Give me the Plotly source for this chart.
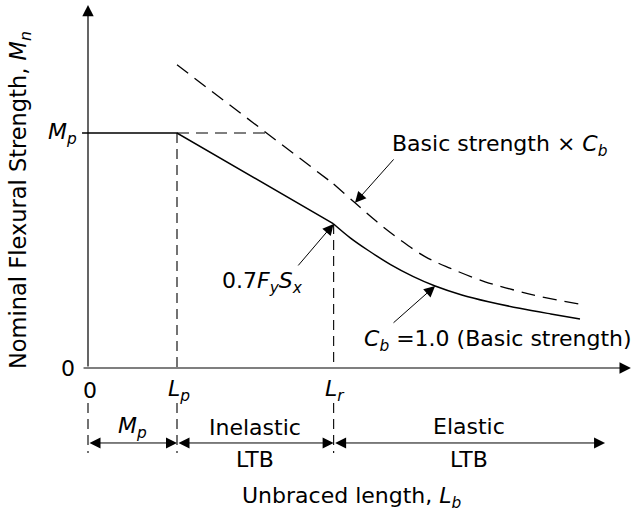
import plotly.graph_objects as go

# Normalised values: lengths in units of Lp, moments in units of Mp
Lp = 1.0
Lr = 2.76
Mp = 1.0
M_r = 0.613          # 0.7 Fy Sx

# Elastic LTB branch, Cb = 1.0 (basic strength)
elastic_x = [2.76, 2.95, 3.15, 3.40, 3.65, 3.90, 4.20, 4.50, 4.85, 5.20, 5.528]
elastic_y = [0.613, 0.553, 0.500, 0.440, 0.390, 0.349, 0.311, 0.282, 0.254, 0.230, 0.209]

# Basic strength multiplied by Cb
cb_inel_x = [1.0, 2.76]
cb_inel_y = [1.29, 0.783]
cb_el_x = [2.76, 3.0, 3.247, 3.506, 3.787, 4.067, 4.461, 4.775, 5.079, 5.528]
cb_el_y = [0.783, 0.703, 0.622, 0.546, 0.474, 0.425, 0.367, 0.333, 0.304, 0.272]

x_ticks = [0.0, Lp, Lr]
x_tick_labels = ["0", "<i>L<sub>p</sub></i>", "<i>L<sub>r</sub></i>"]
elastic_span_end = 5.81

FONT = "DejaVu Sans"
FS = 22
INK = "black"

fig = go.Figure()

# plateau and inelastic branch
fig.add_trace(go.Scatter(x=[-0.067, Lp, Lr], y=[Mp, Mp, M_r], mode="lines",
                         line=dict(color=INK, width=1.5), hoverinfo="skip"))
# elastic branch
fig.add_trace(go.Scatter(x=elastic_x, y=elastic_y, mode="lines",
                         line=dict(color=INK, width=1.5, shape="spline", smoothing=1.0),
                         hoverinfo="skip"))
# Cb-amplified strength (dashed)
fig.add_trace(go.Scatter(x=cb_inel_x, y=cb_inel_y, mode="lines",
                         line=dict(color=INK, width=1.3, dash="14px,8px"), hoverinfo="skip"))
fig.add_trace(go.Scatter(x=cb_el_x, y=cb_el_y, mode="lines",
                         line=dict(color=INK, width=1.3, dash="14px,8px",
                                   shape="spline", smoothing=1.0),
                         hoverinfo="skip"))

# dashed Mp cap up to the Cb curve
x_cross = cb_inel_x[0] + (cb_inel_y[0] - Mp) * (cb_inel_x[1] - cb_inel_x[0]) / (cb_inel_y[0] - cb_inel_y[1])
fig.add_trace(go.Scatter(x=[Lp, x_cross], y=[Mp, Mp], mode="lines",
                         line=dict(color=INK, width=1.1, dash="12px,7px"), hoverinfo="skip"))

# vertical dashed guides at Lp and Lr, plus the extension lines below the axis
vdash = dict(color=INK, width=1.1, dash="10px,6px")
fig.add_trace(go.Scatter(x=[Lp, Lp], y=[Mp, 0], mode="lines", line=vdash, hoverinfo="skip"))
fig.add_trace(go.Scatter(x=[Lr, Lr], y=[M_r, 0], mode="lines", line=vdash, hoverinfo="skip"))
for xv in x_ticks:
    fig.add_trace(go.Scatter(x=[xv, xv], y=[-0.149, -0.362], mode="lines",
                             line=vdash, hoverinfo="skip"))

ann = []

def arrow(x, y, ax, ay, head=2, size=2.2, width=1.0, side="end"):
    ann.append(dict(x=x, y=y, ax=ax, ay=ay, xref="x", yref="y", axref="x", ayref="y",
                    text="", showarrow=True, arrowhead=head, arrowsize=size,
                    arrowwidth=width, arrowcolor=INK, arrowside=side, standoff=0,
                    startstandoff=0))

def label(x, y, text, size=FS, **kw):
    d = dict(x=x, y=y, xref="x", yref="y", text=text, showarrow=False,
             font=dict(family=FONT, size=size, color=INK))
    d.update(kw)
    ann.append(d)

# axes with arrowheads
arrow(0, 1.545, 0, 0, size=1.9, width=1.2)
arrow(6.10, 0, -0.067, 0, size=1.9, width=1.2)

# tick labels
label(-0.29, Mp, "<i>M<sub>p</sub></i>")
label(-0.225, 0, "0")
for xv, t in zip(x_ticks, x_tick_labels):
    label(xv + 0.02, -0.094, t)

# leader arrows to the curves
arrow(cb_el_x[1], cb_el_y[1], 3.449, 0.894)
arrow(Lr, M_r, 2.348, 0.43)
arrow(elastic_x[5], elastic_y[5], 3.416, 0.187)

label(4.629, 0.945, "Basic strength × <i>C<sub>b</sub></i>")
label(1.955, 0.362, "0.7<i>F<sub>y</sub>S<sub>x</sub></i>")
label(4.607, 0.115, "<i>C<sub>b</sub></i> =1.0 (Basic strength)")

# range dimension arrows below the axis
arrow(Lp, -0.319, 0, -0.319, side="end+start")
arrow(Lr, -0.319, Lp, -0.319, side="end+start")
arrow(elastic_span_end, -0.319, Lr, -0.319, side="end+start")

label(Lp / 2, -0.255, "<i>M<sub>p</sub></i>")
label((Lp + Lr) / 2, -0.255, "Inelastic")
label((Lp + Lr) / 2, -0.391, "LTB")
label((Lr + elastic_span_end) / 2, -0.25, "Elastic")
label((Lr + elastic_span_end) / 2, -0.391, "LTB")

# axis titles
label(2.966, -0.549, "Unbraced length, <i>L<sub>b</sub></i>")
label(-0.764, 0.715, "Nominal Flexural Strength, <i>M<sub>n</sub></i>", size=22.5, textangle=-90)

fig.update_layout(
    width=632, height=512,
    margin=dict(l=0, r=0, t=0, b=0),
    paper_bgcolor="white", plot_bgcolor="white",
    showlegend=False,
    xaxis=dict(range=[-88 / 89, 544 / 89], visible=False, fixedrange=True),
    yaxis=dict(range=[-144 / 235, 368 / 235], visible=False, fixedrange=True),
    annotations=ann,
)

fig.write_html("out.html")
